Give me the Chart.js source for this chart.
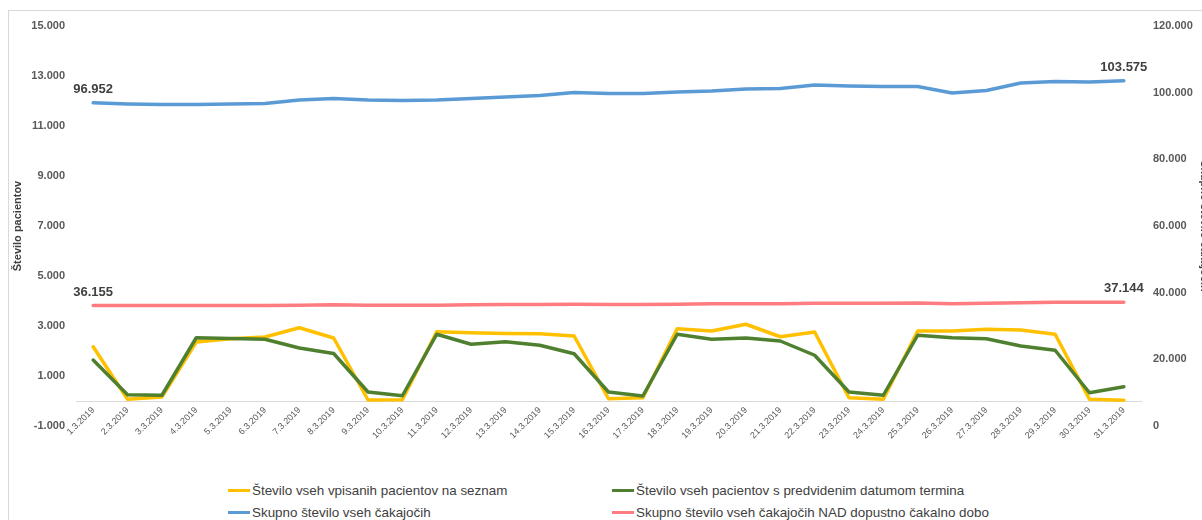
<!DOCTYPE html>
<html>
<head>
<meta charset="utf-8">
<script src="https://cdn.jsdelivr.net/npm/chart.js@4"></script>
<style>
  html, body { margin: 0; padding: 0; background: #fff; overflow: hidden; width: 1202px; height: 520px; }
  #frame { position: absolute; left: 8px; top: 10px; width: 1300px; height: 600px; border-left: 1px solid #d9d9d9; border-top: 1px solid #d9d9d9; }
  #wrap { position: absolute; left: 0; top: 0; width: 1212px; height: 470px; }
  #legend { position: absolute; left: 0; top: 480px; width: 1202px; font-family: "Liberation Sans", Arial, sans-serif; font-size: 13.4px; color: #404040; }
  .item { position: absolute; display: flex; align-items: center; height: 20px; white-space: nowrap; }
  .item span.mark { display: inline-block; width: 22px; height: 3px; margin-right: 2px; }
</style>
</head>
<body>
<div id="frame"></div>
<div id="wrap"><canvas id="myChart"></canvas></div>
<div id="legend"></div>
<script>
var days = ['1.3.2019', '2.3.2019', '3.3.2019', '4.3.2019', '5.3.2019', '6.3.2019', '7.3.2019', '8.3.2019',
    '9.3.2019', '10.3.2019', '11.3.2019', '12.3.2019', '13.3.2019', '14.3.2019', '15.3.2019', '16.3.2019',
    '17.3.2019', '18.3.2019', '19.3.2019', '20.3.2019', '21.3.2019', '22.3.2019', '23.3.2019', '24.3.2019',
    '25.3.2019', '26.3.2019', '27.3.2019', '28.3.2019', '29.3.2019', '30.3.2019', '31.3.2019'];

// left axis
var vpisani = [2170, 70, 160, 2360, 2490, 2560, 2930, 2520, 40, 50, 2770, 2730, 2700, 2690, 2600, 90,
    130, 2890, 2800, 3070, 2570, 2760, 130, 70, 2800, 2800, 2870, 2840, 2670, 70, 30];
var predvideni = [1640, 250, 230, 2530, 2500, 2470, 2120, 1900, 360, 210, 2670, 2270, 2370, 2230, 1890, 360,
    200, 2670, 2470, 2520, 2400, 1830, 360, 230, 2630, 2530, 2490, 2200, 2030, 330, 570];

// right axis
var vsi_cakajoci = [96952, 96600, 96450, 96450, 96600, 96750, 97800, 98250, 97800, 97650, 97800, 98250,
    98700, 99150, 100050, 99750, 99750, 100200, 100500, 101100, 101250, 102300, 102000, 101850, 101850,
    99900, 100650, 102900, 103350, 103200, 103575];
var nad_dobo = [36155, 36150, 36140, 36130, 36150, 36160, 36200, 36350, 36250, 36220, 36240, 36400, 36450,
    36480, 36500, 36480, 36470, 36550, 36650, 36700, 36680, 36800, 36820, 36830, 36900, 36700, 36800,
    36950, 37100, 37130, 37144];

var left_ticks = [-1000, 1000, 3000, 5000, 7000, 9000, 11000, 13000, 15000];

function fmt(v){
    return String(v).replace(/\B(?=(\d{3})+(?!\d))/g, '.');
}

var font_main = '"Liberation Sans", Arial, sans-serif';

// first / last value labels on the right-axis lines
var endLabels = {
    id: 'endLabels',
    afterDatasetsDraw(chart) {
        var ctx = chart.ctx;
        ctx.save();
        ctx.font = 'bold 13px ' + font_main;
        ctx.fillStyle = '#404040';
        ctx.textAlign = 'center';
        ctx.textBaseline = 'bottom';
        [2, 3].forEach(function(i){
            var meta = chart.getDatasetMeta(i);
            var data = chart.data.datasets[i].data;
            [0, data.length - 1].forEach(function(j){
                var pt = meta.data[j];
                ctx.fillText(fmt(data[j]), pt.x, pt.y - 7);
            });
        });
        ctx.restore();
    }
};

var datasets = [{
    label: 'Število vseh vpisanih pacientov na seznam',
    data: vpisani, borderColor: '#ffc000', yAxisID: 'y', borderWidth: 3.5, order: 1
},{
    label: 'Število vseh pacientov s predvidenim datumom termina',
    data: predvideni, borderColor: '#4f802f', yAxisID: 'y', borderWidth: 3.5, order: 0
},{
    label: 'Skupno število vseh čakajočih',
    data: vsi_cakajoci, borderColor: '#5b9bd5', yAxisID: 'y1', borderWidth: 3.5, order: 2
},{
    label: 'Skupno število vseh čakajočih NAD dopustno čakalno dobo',
    data: nad_dobo, borderColor: '#ff7c80', yAxisID: 'y1', borderWidth: 3.5, order: 3
}];

var ctx = document.getElementById('myChart').getContext('2d');
var chart = new Chart(ctx, {
    type: 'line',
    data: { labels: days, datasets: datasets },
    plugins: [endLabels],
    options: {
        responsive: true,
        maintainAspectRatio: false,
        animation: false,
        layout: { padding: { top: 26, bottom: 44, left: 0, right: 0 } },
        elements: {
            point: { radius: 0 },
            line: { tension: 0, borderCapStyle: 'round', borderJoinStyle: 'round', fill: false }
        },
        plugins: { legend: { display: false }, tooltip: { enabled: false } },
        scales: {
            x: {
                position: { y: 0 },
                offset: true,
                grid: { display: false, drawTicks: false },
                border: { display: true, color: '#d9d9d9', width: 1 },
                ticks: {
                    autoSkip: false, minRotation: 45, maxRotation: 45, padding: 4,
                    color: '#595959', font: { family: font_main, size: 9 }
                }
            },
            y: {
                position: 'left',
                min: -1000, max: 15000,
                afterFit: function(s){ s.width = 76; },
                afterBuildTicks: function(s){ s.ticks = left_ticks.map(function(v){ return { value: v }; }); },
                grid: { display: false, drawTicks: false },
                border: { display: false },
                ticks: {
                    padding: 11, color: '#595959',
                    font: { family: font_main, size: 11, weight: 'bold' },
                    callback: function(v){ return fmt(v); }
                },
                title: {
                    display: true, text: 'Število pacientov', color: '#404040',
                    padding: { top: 11, bottom: 0 },
                    font: { family: font_main, size: 11, weight: 'bold' }
                }
            },
            y1: {
                position: 'right',
                min: 0, max: 120000,
                afterFit: function(s){ s.width = 71; },
                grid: { display: false, drawTicks: false },
                border: { display: false },
                ticks: {
                    stepSize: 20000, padding: 12, color: '#595959',
                    font: { family: font_main, size: 11, weight: 'bold' },
                    callback: function(v){ return fmt(v); }
                },
                title: {
                    display: true, text: 'Skupno število čakajočih', color: '#404040',
                    padding: { top: 1, bottom: 0 },
                    font: { family: font_main, size: 11, weight: 'bold' }
                }
            }
        }
    }
});

// legend in two columns like the original
var legend_pos = [[228, 0], [612, 0], [228, 22], [612, 22]];
var legend = document.getElementById('legend');
for (let i = 0; i < datasets.length; i++) {
    var d = document.createElement('div');
    d.className = 'item';
    d.style.left = legend_pos[i][0] + 'px';
    d.style.top = legend_pos[i][1] + 'px';
    d.innerHTML = '<span class="mark" style="background:' + datasets[i].borderColor + '"></span>' + datasets[i].label;
    legend.appendChild(d);
}
</script>
</body>
</html>
